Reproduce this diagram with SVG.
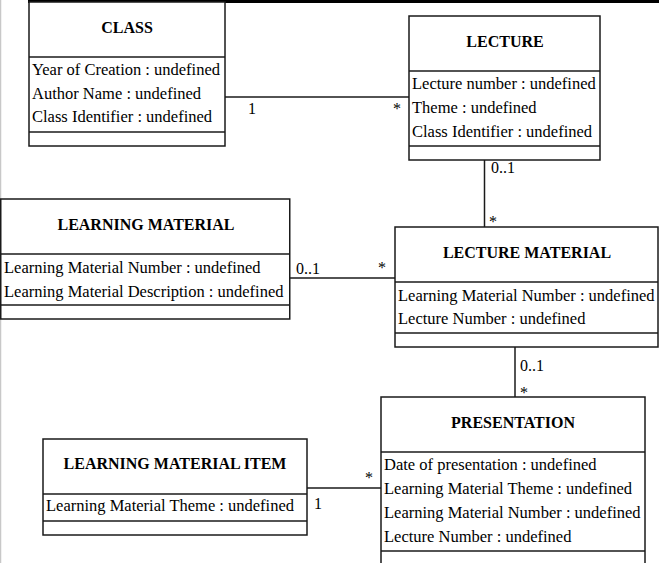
<svg xmlns="http://www.w3.org/2000/svg" width="659" height="563" viewBox="0 0 659 563">
<style>
.box{fill:#fff;stroke:#1a1a1a;stroke-width:1.5}
.sep{stroke:#1a1a1a;stroke-width:1.5}
.conn{stroke:#1a1a1a;stroke-width:1.5;fill:none}
.t{font-family:"Liberation Serif","Times New Roman",serif;font-size:16.5px;fill:#000}
.h{font-family:"Liberation Serif","Times New Roman",serif;font-size:16px;font-weight:bold;fill:#000;text-anchor:middle}
.m{font-family:"Liberation Serif","Times New Roman",serif;font-size:16px;fill:#000}
</style>
<rect x="0" y="0" width="659" height="563" fill="#fff"/>
<line x1="0.5" y1="0" x2="0.5" y2="563" stroke="#c8c8c8" stroke-width="1.5"/>
<line x1="28" y1="1.5" x2="659" y2="1.5" stroke="#000" stroke-width="3"/>

<g id="connectors">
<line class="conn" x1="225" y1="97" x2="409" y2="97"/>
<line class="conn" x1="484.5" y1="160" x2="484.5" y2="227"/>
<line class="conn" x1="290" y1="278" x2="395" y2="278"/>
<line class="conn" x1="515" y1="347" x2="515" y2="397"/>
<line class="conn" x1="307" y1="488" x2="381" y2="488"/>
<text class="m" x="248" y="114">1</text>
<text class="m" x="393" y="114">*</text>
<text class="m" x="491" y="173">0..1</text>
<text class="m" x="489" y="227">*</text>
<text class="m" x="296" y="274">0..1</text>
<text class="m" x="378" y="273">*</text>
<text class="m" x="520" y="371">0..1</text>
<text class="m" x="520" y="398">*</text>
<text class="m" x="365" y="483">*</text>
<text class="m" x="314" y="509">1</text>
</g>

<g id="class">
<rect class="box" x="29" y="2" width="196" height="144"/>
<line class="sep" x1="29" y1="57" x2="225" y2="57"/>
<line class="sep" x1="29" y1="132" x2="225" y2="132"/>
<text class="h" x="127" y="33">CLASS</text>
<text class="t" x="32" y="75">Year of Creation : undefined</text>
<text class="t" x="32" y="99">Author Name : undefined</text>
<text class="t" x="32" y="122">Class Identifier : undefined</text>
</g>

<g id="lecture">
<rect class="box" x="409" y="16" width="191" height="144"/>
<line class="sep" x1="409" y1="71" x2="600" y2="71"/>
<line class="sep" x1="409" y1="146" x2="600" y2="146"/>
<text class="h" x="505" y="47">LECTURE</text>
<text class="t" x="412" y="89">Lecture number : undefined</text>
<text class="t" x="412" y="113">Theme : undefined</text>
<text class="t" x="412" y="137">Class Identifier : undefined</text>
</g>

<g id="learning-material">
<rect class="box" x="0.75" y="199" width="289" height="120"/>
<line class="sep" x1="0.75" y1="254" x2="290" y2="254"/>
<line class="sep" x1="0.75" y1="305" x2="290" y2="305"/>
<text class="h" x="146" y="230">LEARNING MATERIAL</text>
<text class="t" x="4" y="273">Learning Material Number : undefined</text>
<text class="t" x="4" y="297">Learning Material Description : undefined</text>
</g>

<g id="lecture-material">
<rect class="box" x="395" y="227" width="263" height="120"/>
<line class="sep" x1="395" y1="282" x2="658" y2="282"/>
<line class="sep" x1="395" y1="333" x2="658" y2="333"/>
<text class="h" x="527" y="258">LECTURE MATERIAL</text>
<text class="t" x="398" y="301">Learning Material Number : undefined</text>
<text class="t" x="398" y="324">Lecture Number : undefined</text>
</g>

<g id="presentation">
<rect class="box" x="381" y="397" width="264" height="180"/>
<line class="sep" x1="381" y1="452" x2="645" y2="452"/>
<line class="sep" x1="381" y1="551" x2="645" y2="551"/>
<text class="h" x="513" y="428">PRESENTATION</text>
<text class="t" x="384" y="470">Date of presentation : undefined</text>
<text class="t" x="384" y="494">Learning Material Theme : undefined</text>
<text class="t" x="384" y="518">Learning Material Number : undefined</text>
<text class="t" x="384" y="542">Lecture Number : undefined</text>
</g>

<g id="learning-material-item">
<rect class="box" x="43" y="439" width="264" height="96"/>
<line class="sep" x1="43" y1="494" x2="307" y2="494"/>
<line class="sep" x1="43" y1="521" x2="307" y2="521"/>
<text class="h" x="175" y="469">LEARNING MATERIAL ITEM</text>
<text class="t" x="46" y="511">Learning Material Theme : undefined</text>
</g>
</svg>
